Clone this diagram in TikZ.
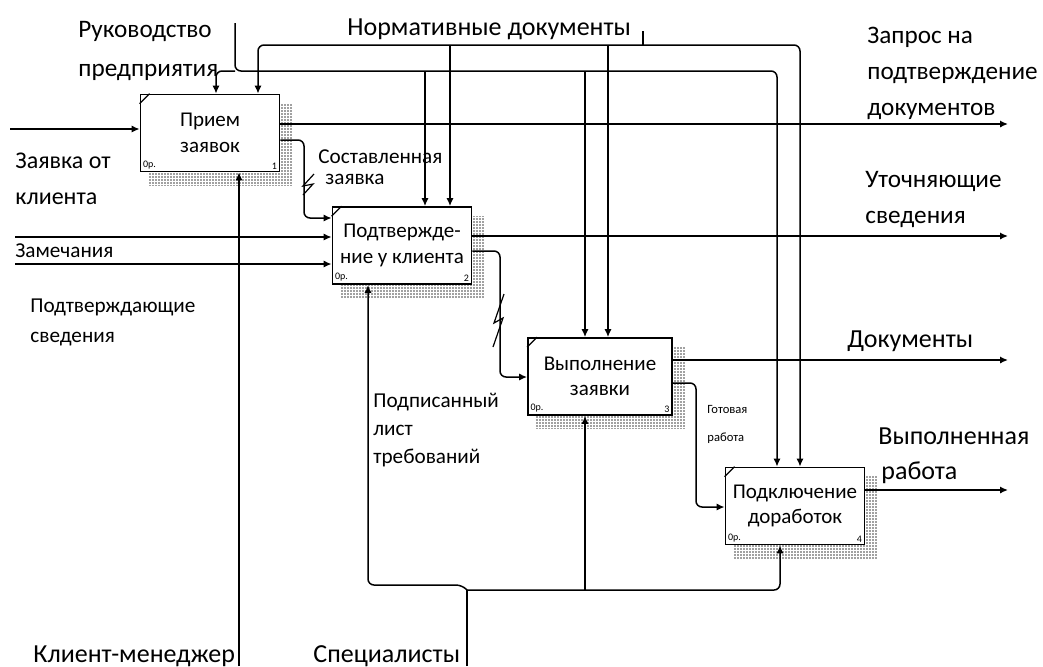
\documentclass[tikz,border=0pt]{standalone}
\usepackage{fontspec}
\setmainfont{Carlito}
\usetikzlibrary{arrows.meta, positioning, calc, backgrounds, patterns.meta}

\begin{document}
\begin{tikzpicture}[
    x=0.5pt, y=-0.5pt,
    process/.style={rectangle, draw=black, line width=0.9pt, fill=white, minimum width=69.5pt, minimum height=38.5pt, align=center, inner sep=1pt, font=\fontsize{10.5}{12.8}\selectfont},
    tag/.style={anchor=north west, align=left, inner sep=0pt, font=\fontsize{12.6}{18}\selectfont},
    note/.style={anchor=north west, align=left, inner sep=0pt, font=\fontsize{10.6}{14.5}\selectfont},
    tiny/.style={inner sep=1.5pt, font=\fontsize{5}{5}\selectfont},
    arrow/.style={-{Latex[length=4pt,width=3.6pt]}, line width=0.75pt, rounded corners=3},
    line/.style={line width=0.75pt, rounded corners=3},
    hatch/.style={pattern={Dots[distance=1.5pt, radius=0.42pt]}, pattern color=black!75}
]
\useasboundingbox (0,0) rectangle (1043,666);

% Functions
\node[process] (accept) at (210,133) {Прием\\заявок};
\node[process] (confirm) at (402,245.5) {Подтвержде-\\ние у клиента};
\node[process, minimum width=72pt] (execute) at (600,376.5) {Выполнение\\заявки};
\node[process] (connect) at (795,506) {Подключение\\доработок};

\foreach \b/\idx in {accept/1,confirm/2,execute/3,connect/4} {
  \draw[line width=0.6pt] ($(\b.north west)+(0,10)$) -- ($(\b.north west)+(10,0)$);
  \node[tiny, anchor=south west] (\b-op) at (\b.south west) {0р.};
  \node[tiny, anchor=south east] (\b-num) at (\b.south east) {\idx};
}
\begin{scope}[on background layer]
\foreach \b in {accept,confirm,execute,connect}
  \fill[hatch] ($(\b.north west)+(9,10)$) rectangle ($(\b.south east)+(12,13)$);
\end{scope}

% Inputs
\coordinate (request) at (10,129);
\draw[arrow] (request) -- (request -| accept.west);
\node[tag, font=\fontsize{12}{18}\selectfont] (request-l) at (15,153) {Заявка от\\клиента};

\coordinate (remarks) at (15,237);
\coordinate (proofs) at (15,264);
\draw[arrow] (remarks) -- (remarks -| confirm.west);
\draw[arrow] (proofs) -- (proofs -| confirm.west);
\node[note, anchor=base west] (remarks-l) at (15,257) {Замечания};
\node[note, font=\fontsize{10.6}{15}\selectfont] (proofs-l) at (30,298) {Подтверждающие\\сведения};

% Outputs
\coordinate (query) at (1008,124);
\draw[arrow] (query -| accept.east) -- (query);
\node[tag] (query-l) at (867,27) {Запрос на\\подтверждение\\документов};

\coordinate (details) at (1008,236);
\draw[arrow] (details -| confirm.east) -- (details);
\node[tag] (details-l) at (865,171) {Уточняющие\\сведения};

\coordinate (docs) at (1008,360);
\draw[arrow] (docs -| execute.east) -- (docs);
\node[tag, anchor=base west, font=\fontsize{13}{18}\selectfont] (docs-l) at (847,347) {Документы};

\coordinate (done) at (1008,490);
\draw[arrow] (done -| connect.east) -- (done);
\node[tag, font=\fontsize{13}{17.5}\selectfont] (done-l) at (878,427) {Выполненная\\\hspace*{1.5pt}работа};

% Links between functions
\draw[arrow] (accept.east |- 0,140) -- (304,140) -- (304,218) -- (confirm.west |- 0,218);
\draw[line width=0.6pt] (314,174) -- (303,186) -- (313,184) -- (303,195);
\node[note, font=\fontsize{10.6}{10.8}\selectfont] (made-l) at (318,149) {Составленная\\\hspace*{3.5pt}заявка};

\draw[arrow] (confirm.east |- 0,251) -- (500,251) -- (500,377) -- (execute.west |- 0,377);
\draw[line width=0.6pt] (504,294) -- (494,323) -- (503,318) -- (493,347);
\node[note, font=\fontsize{10.6}{14}\selectfont] (signed-l) at (373,393) {Подписанный\\лист\\требований};

\draw[arrow] (execute.east |- 0,383) -- (696,383) -- (696,507) -- (connect.west |- 0,507);
\node[note, font=\fontsize{6.3}{14}\selectfont] (ready-l) at (707,405) {Готовая\\работа};

% Controls
\node[tag, font=\fontsize{12.6}{19.5}\selectfont] (board-l) at (78,21) {Руководство\\предприятия};
\coordinate (board) at (235,23);
\draw[arrow] (board) -- (235,71) -- (777,71) -- (connect.north -| 777,0);
\draw[arrow] (235,71) -- (216,71) -- (accept.north -| 216,0);
\draw[arrow] (425,71) -- (confirm.north -| 425,0);
\draw[arrow] (585,71) -- (execute.north -| 585,0);

\node[tag, anchor=base west, font=\fontsize{13}{18}\selectfont] (norms-l) at (347,35) {Нормативные документы};
\coordinate (norms) at (643,31);
\draw[line] (norms) -- (643,45);
\draw[arrow] (643,45) -- (258,45) -- (accept.north -| 258,0);
\draw[arrow] (643,45) -- (800,45) -- (connect.north -| 800,0);
\draw[arrow] (450,45) -- (confirm.north -| 450,0);
\draw[arrow] (608,45) -- (execute.north -| 608,0);

% Mechanisms
\node[tag, anchor=base west, font=\fontsize{13}{18}\selectfont] (manager-l) at (33,662) {Клиент-менеджер};
\coordinate (manager) at (239,666);
\draw[arrow] (manager) -- (manager |- accept.south);

\node[tag, anchor=base west, font=\fontsize{13}{18}\selectfont] (staff-l) at (313,662) {Специалисты};
\coordinate (staff) at (467,666);
\draw[line] (staff) -- (467,590);
\draw[arrow] (467,590) -- (462,585) -- (368,585) -- (confirm.south -| 368,0);
\draw[arrow] (467,590) -- (780,590) -- (connect.south -| 780,0);
\draw[arrow] (585,590) -- (execute.south -| 585,0);
\end{tikzpicture}
\end{document}
